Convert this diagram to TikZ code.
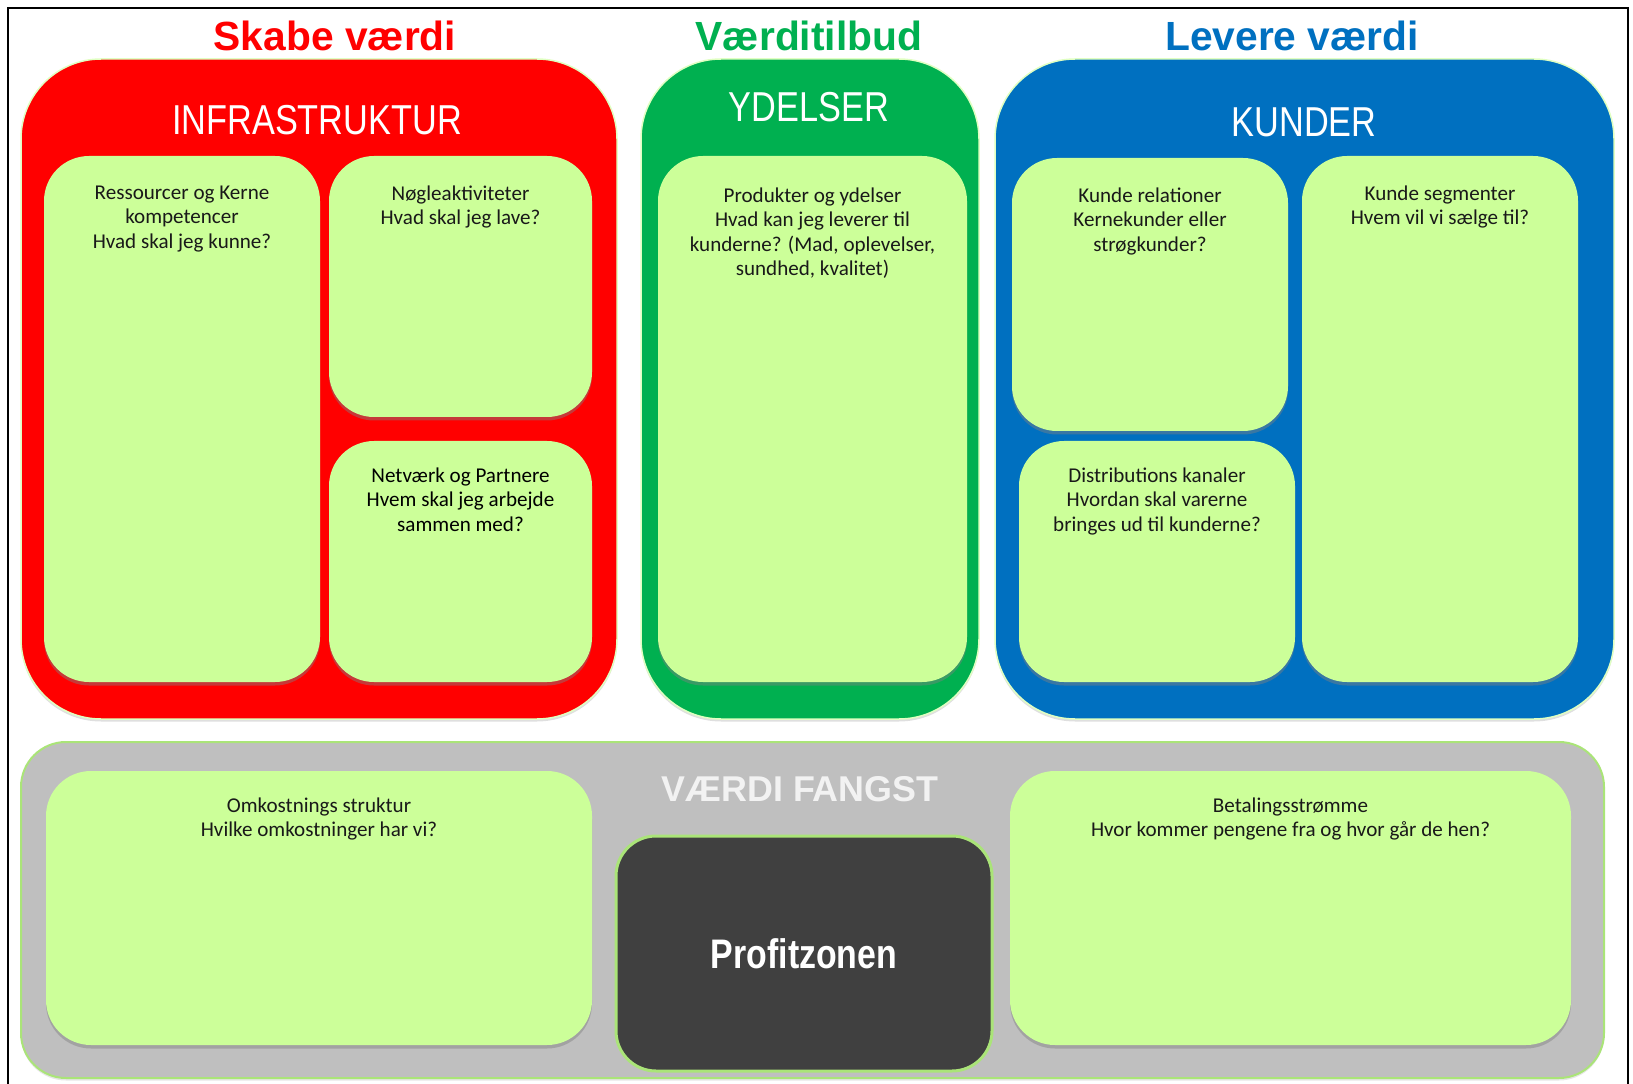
\documentclass[tikz,border=0pt]{standalone}
\usepackage{fontspec}
\setmainfont{Liberation Sans}
\newfontfamily\narrowfont[FakeStretch=0.82]{Liberation Sans}
\newfontfamily\notefont{Carlito}
\usetikzlibrary{
    positioning,    % tikz's library for relative placement
    shadows         % tikz's library for drop shadows
}
\newcommand{\px}{0.02cm}
\definecolor{skaberod}{RGB}{255,0,0}
\definecolor{tilbudgroen}{RGB}{0,176,80}
\definecolor{levereblaa}{RGB}{0,112,192}
\definecolor{feltgroen}{RGB}{204,255,153}
\definecolor{kantgroen}{RGB}{170,228,120}
\definecolor{fangstgraa}{RGB}{191,191,191}
\definecolor{profitgraa}{RGB}{64,64,64}
\tikzset{
    region box/.style={rounded corners=80*\px, draw=feltgroen!60!white, line width=1.5*\px,
        drop shadow={shadow xshift=0pt, shadow yshift=-0.05cm, opacity=0.25}},
    note box/.style={rounded corners=45*\px, fill=feltgroen,
        drop shadow={shadow xshift=0pt, shadow yshift=-0.07cm, opacity=0.45}},
    note text/.style={inner sep=0pt, align=center, text=black!90,
        font=\notefont\fontsize{12pt}{13.8pt}\selectfont},
    title text/.style={font=\bfseries\fontsize{23.2pt}{26pt}\selectfont},
    head text/.style={text=white, font=\narrowfont\fontsize{23.8pt}{26pt}\selectfont},
    frame line/.style={draw=black, line width=2*\px}
}

\begin{document}
\begin{tikzpicture}[x=\px, y=-\px]
    \useasboundingbox (0,0) rectangle (1633,1084);
    \draw[frame line] (8,1084) -- (8,8) -- (1628,8) -- (1628,1084);

    % the three columns
    \node[title text, text=skaberod]    (skabe)  at (335,36)  {Skabe værdi};
    \node[title text, text=tilbudgroen] (tilbud) at (809,36)  {Værditilbud};
    \node[title text, text=levereblaa]  (levere) at (1292,36) {Levere værdi};

    \node[region box, fill=skaberod, minimum width=596*\px, minimum height=660*\px] (infra) at (319,389) {};
    \node[region box, fill=tilbudgroen, minimum width=338*\px, minimum height=660*\px] (ydelser) at (810,389) {};
    \node[region box, fill=levereblaa, minimum width=619*\px, minimum height=660*\px] (kunder) at (1304.5,389) {};

    \node[head text] (infratitle)   at (317,120)  {INFRASTRUKTUR};
    \node[head text] (ydelsertitle) at (809,107)  {YDELSER};
    \node[head text] (kundertitle)  at (1304,122) {KUNDER};

    \node[note box, minimum width=276*\px, minimum height=526*\px] (ressourcer) at (182,419) {};
    \node[note box, minimum width=263*\px, minimum height=261*\px] (aktiviteter) at (460.5,286.5) {};
    \node[note box, minimum width=263*\px, minimum height=241*\px] (partnere) at (460.5,561.5) {};
    \node[note box, minimum width=309*\px, minimum height=526*\px] (produkter) at (812.5,419) {};
    \node[note box, minimum width=276*\px, minimum height=273*\px] (relationer) at (1150,294.5) {};
    \node[note box, minimum width=276*\px, minimum height=241*\px] (kanaler) at (1157,561.5) {};
    \node[note box, minimum width=276*\px, minimum height=526*\px] (segmenter) at (1440,419) {};

    \node[note text, below=30*\px of ressourcer.north] {Ressourcer og Kerne\\kompetencer\\Hvad skal jeg kunne?};
    \node[note text, below=30*\px of aktiviteter.north] {Nøgleaktiviteter\\Hvad skal jeg lave?};
    \node[note text, below=27*\px of partnere.north, text=black] {Netværk og Partnere\\Hvem skal jeg arbejde\\sammen med?};
    \node[note text, below=32*\px of produkter.north] {Produkter og ydelser\\Hvad kan jeg leverer til\\kunderne? (Mad, oplevelser,\\sundhed, kvalitet)};
    \node[note text, below=30*\px of relationer.north] {Kunde relationer\\Kernekunder eller\\strøgkunder?};
    \node[note text, below=27*\px of kanaler.north] {Distributions kanaler\\Hvordan skal varerne\\bringes ud til kunderne?};
    \node[note text, below=30*\px of segmenter.north] {Kunde segmenter\\Hvem vil vi sælge til?};

    % value capture
    \node[rounded corners=45*\px, fill=fangstgraa, draw=kantgroen, line width=2*\px,
        drop shadow={shadow xshift=0pt, shadow yshift=-0.05cm, opacity=0.2},
        minimum width=1583*\px, minimum height=336*\px] (fangst) at (812.5,910) {};
    \node[text=white!95!black, font=\bfseries\fontsize{20.4pt}{24pt}\selectfont] (fangsttitle) at (800,789) {VÆRDI FANGST};

    \node[note box, minimum width=546*\px, minimum height=274*\px] (omkostninger) at (319,908) {};
    \node[note box, minimum width=561*\px, minimum height=274*\px] (betaling) at (1290.5,908) {};
    \node[rounded corners=40*\px, fill=profitgraa, draw=kantgroen, line width=3*\px,
        minimum width=376*\px, minimum height=235*\px] (profit) at (804,953.5) {};
    \node[text=white, font=\narrowfont\bfseries\fontsize{23.5pt}{26pt}\selectfont] (profittitle) at (profit) {Profitzonen};

    \node[note text, below=27*\px of omkostninger.north] {Omkostnings struktur\\Hvilke omkostninger har vi?};
    \node[note text, below=27*\px of betaling.north] {Betalingsstrømme\\Hvor kommer pengene fra og hvor går de hen?};
\end{tikzpicture}
\end{document}
